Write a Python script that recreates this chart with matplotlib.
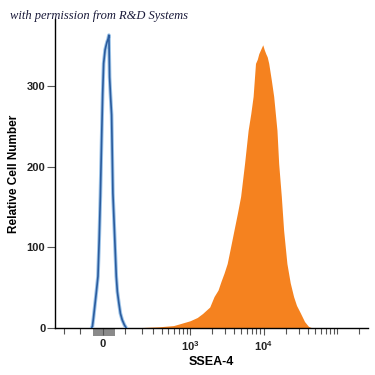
import numpy as np
import matplotlib.pyplot as plt
from matplotlib.patches import Rectangle

plt.rcParams['font.family'] = ['Liberation Sans', 'DejaVu Sans']
plt.rcParams['mathtext.fontset'] = 'custom'
plt.rcParams['mathtext.rm'] = 'Liberation Sans:bold'
plt.rcParams['mathtext.bf'] = 'Liberation Sans:bold'

# -----------------------------
# Control (isotype): outline trace, fluorescence vs counts
# -----------------------------
blue_x = [-46, -42.4, -38, -32.7, -26, -19.1, -14, -9.3, -4.0, 0, 4.0, 10.1,
          14, 18.3, 22, 25.6, 28.5, 32, 36.9, 42.4, 48.4, 57.1, 62,
          68.8, 76, 84.7, 95, 104.8]
blue_counts = [0, 2, 12, 26, 44, 64, 110, 163, 237, 290, 328, 345,
               350, 355, 358, 363, 311, 290, 264, 167, 125, 64, 45,
               31, 18, 10, 4, 0]

# -----------------------------
# SSEA-4 stained cells: outline points of the filled histogram
# -----------------------------
orange_x = [150, 184, 371, 590, 707, 1000, 1250, 1480, 1850, 2120, 2400,
            2640, 2900, 3200, 3550, 3950, 4400, 4870, 5510, 6160, 6700,
            7200, 7760, 8200, 8600, 9300, 9740, 10200, 10700, 11200, 11740,
            12700, 13710, 15190, 16020, 17410, 18710, 20730, 23000, 25540,
            28000, 31450, 36000, 40700, 46100]
orange_counts = [0, 0.5, 1.5, 3, 5, 9, 13, 18, 26, 39, 47,
                 58, 68, 80, 100, 121, 142, 163, 204, 245, 266,
                 287, 328, 333, 340, 347, 351, 345, 340, 336, 328,
                 308, 287, 245, 204, 163, 121, 80, 56, 39,
                 28, 19, 8, 2, 0]

major_ticks = [0, 1000, 10000]
major_labels = ['0', r'$\mathbf{10^3}$', r'$\mathbf{10^4}$']
minor_ticks = [-200, -100, 100, 200, 300, 400, 500, 600, 700, 800, 900,
               2000, 3000, 4000, 5000, 6000, 7000, 8000, 9000,
               20000, 30000, 40000, 50000, 60000, 70000, 80000, 90000,
               100000, 200000]
y_ticks = [0, 100, 200, 300]

fig = plt.figure(figsize=(3.75, 3.75), dpi=100)
ax = fig.add_axes([55 / 375, 1 - 328 / 375, 313 / 375, 309 / 375])
ax.set_xscale('asinh', linear_width=130)

ax.fill_between(orange_x, orange_counts, color='#f5821f', lw=0, zorder=2)
ax.plot(blue_x, blue_counts, color='#9cc3e8', lw=2.6, zorder=3)
ax.plot(blue_x, blue_counts, color='#2b5c9e', lw=1.2, zorder=4)

# gray marker bar under zero
ax.add_patch(Rectangle((-39, -10), 89, 9, color='#8a8a8a', lw=0, clip_on=False, zorder=1))

ax.set_xlim(-274, 262144)
ax.set_ylim(0, 383)

ax.set_xticks(major_ticks)
ax.set_xticklabels(major_labels)
ax.set_xticks(minor_ticks, minor=True)
ax.set_yticks(y_ticks)

ax.tick_params(axis='x', which='major', length=5, width=0.8, color='#555555',
               labelsize=8, pad=3)
ax.tick_params(axis='x', which='minor', length=4, width=0.8, color='#555555')
ax.tick_params(axis='y', length=6, width=0.8, color='#555555', labelsize=8, pad=1)
for lab in ax.get_xticklabels() + ax.get_yticklabels():
    lab.set_fontweight('bold')
    lab.set_color('#222222')

ax.spines['top'].set_visible(False)
ax.spines['right'].set_visible(False)
ax.spines['left'].set_linewidth(1.0)
ax.spines['bottom'].set_linewidth(1.0)

ax.set_xlabel('SSEA-4', fontsize=9, fontweight='bold', labelpad=2)
ax.set_ylabel('Relative Cell Number', fontsize=8.5, fontweight='bold', labelpad=5)

fig.text(10 / 375, 1 - 16 / 375, 'with permission from R&D Systems',
         fontsize=9, style='italic', family='Liberation Serif',
         color='#1a1a3a', va='center', ha='left')

plt.savefig('out.png', dpi=100)
